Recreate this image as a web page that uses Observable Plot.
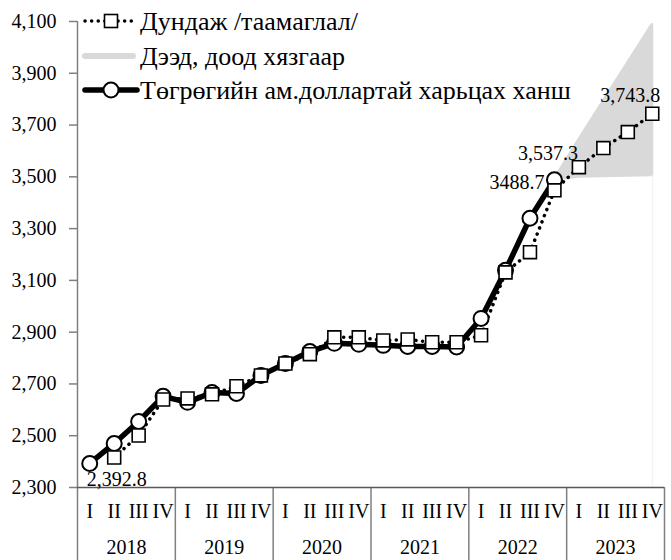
<!DOCTYPE html>
<html>
<head>
<meta charset="utf-8">
<script src="https://cdn.jsdelivr.net/npm/d3@7"></script>
<script src="https://cdn.jsdelivr.net/npm/@observablehq/plot@0.6"></script>
<style>
  html, body { margin: 0; padding: 0; background: white; }
  #chart { position: relative; width: 671px; height: 560px; }
</style>
</head>
<body>
<div id="chart"></div>
<script>
// ---- data ----
const quarterLabels = ["I", "II", "III", "IV"];
const years = ["2018", "2019", "2020", "2021", "2022", "2023"];
// Actual exchange rate, 2018 Q1 .. 2022 Q4
const actualValues = [
  2392.8, 2470, 2555, 2652,
  2629, 2667, 2663, 2733,
  2779, 2825, 2857, 2853,
  2849, 2845, 2845, 2843,
  2953, 3139, 3340, 3488.7
];
// Average forecast, 2018 Q2 .. 2023 Q4
const forecastValues = [
  2416, 2501, 2640,
  2644, 2660, 2691, 2733,
  2779, 2815, 2880, 2880,
  2868, 2872, 2861, 2861,
  2888, 3131, 3209, 3448,
  3537.3, 3611, 3673, 3743.8
];
// Upper / lower bounds, 2022 Q4 .. 2023 Q4
const bandUpper = [3488.7, 3640, 3790, 3938, 4086];
const bandLower = [3488.7, 3500, 3502, 3504, 3506];
const yTicks = [2300, 2500, 2700, 2900, 3100, 3300, 3500, 3700, 3900, 4100];
const legendLabels = ["Дундаж /таамаглал/", "Дээд, доод хязгаар", "Төгрөгийн ам.доллартай харьцах ханш"];

// ---- tables ----
const actual = actualValues.map((v, k) => ({i: k, v}));
const forecast = forecastValues.map((v, k) => ({i: k + 1, v}));
const band = bandUpper.map((hi, k) => ({i: k + 19, hi, lo: bandLower[k]}));
const quarterIdx = d3.range(years.length * 4);
const separators = d3.range(years.length + 1).map(k => k * 4 - 0.5);
const yearCenters = years.map((y, k) => k * 4 + 1.5);

const fmtComma = d3.format(",.1f");
const fmtPlain = d3.format(".1f");
const axisGray = "#7f7f7f";
const serif = "'Liberation Serif', 'Times New Roman', serif";

const plot = Plot.plot({
  width: 671,
  height: 560,
  marginLeft: 77,
  marginRight: 7,
  marginTop: 21,
  marginBottom: 73,
  style: {fontFamily: serif, fontSize: "20px", background: "white", color: "black", overflow: "visible"},
  x: {domain: [-0.5, 23.5], axis: null},
  y: {domain: [2300, 4100], axis: null},
  marks: [
    Plot.areaY(band, {x: "i", y1: "lo", y2: "hi", fill: "#d9d9d9", stroke: "#d9d9d9", strokeWidth: 3, strokeLinejoin: "round"}),
    Plot.ruleX(band.slice(-1), {x: "i", y1: 2300, y2: "lo", stroke: "#f0f0f0", strokeWidth: 1}),
    Plot.axisY({ticks: yTicks, tickFormat: d3.format(","), tickSize: 8, tickPadding: 13, stroke: axisGray, fill: "black", strokeWidth: 1.5, fontSize: 20, label: null}),
    Plot.axisX({ticks: separators, tickSize: 73, tickFormat: () => "", stroke: axisGray, strokeWidth: 1.5, label: null}),
    Plot.axisX({ticks: quarterIdx, tickSize: 0, tickPadding: 16, tickFormat: i => quarterLabels[i % 4], fill: "black", fontSize: 20, label: null}),
    Plot.axisX({ticks: yearCenters, tickSize: 0, tickPadding: 52, tickFormat: (d, k) => years[k], fill: "black", fontSize: 20, label: null}),
    Plot.ruleX([-0.5], {stroke: axisGray, strokeWidth: 1.5}),
    Plot.ruleY([2300], {stroke: "#595959", strokeWidth: 1.5}),
    Plot.line(actual, {x: "i", y: "v", stroke: "black", strokeWidth: 5.5, strokeLinejoin: "round"}),
    Plot.line(forecast, {x: "i", y: "v", stroke: "black", strokeWidth: 3.5, strokeDasharray: "0.1 6.5", strokeLinecap: "round"}),
    Plot.dot(actual, {x: "i", y: "v", r: 7.5, fill: "white", stroke: "black", strokeWidth: 2}),
    Plot.dot(forecast, {x: "i", y: "v", symbol: "square", r: 7.3, fill: "white", stroke: "black", strokeWidth: 1.6}),
    Plot.text(actual.slice(0, 1), {x: "i", y: "v", text: d => fmtComma(d.v), textAnchor: "start", dx: -3, dy: 16, fontSize: 20, fill: "black"}),
    Plot.text(actual.slice(-1), {x: "i", y: "v", text: d => fmtPlain(d.v), textAnchor: "end", dx: -10, dy: 3, fontSize: 20, fill: "black"}),
    Plot.text(forecast.filter(d => d.i === 20), {x: "i", y: "v", text: d => fmtComma(d.v), textAnchor: "end", dx: -1, dy: -14, fontSize: 20, fill: "black"}),
    Plot.text(forecast.slice(-1), {x: "i", y: "v", text: d => fmtComma(d.v), textAnchor: "end", dx: 8, dy: -18, fontSize: 20, fill: "black"})
  ]
});
document.getElementById("chart").appendChild(plot);

// ---- legend (overlay inside the svg) ----
const svg = d3.select(plot);
const lg = svg.append("g").attr("font-family", serif).attr("font-size", 26).attr("text-anchor", "start");
const rowY = [21, 56, 90];
const x0 = 85, x1 = 137, xm = 111;
// row 1: dotted + square
lg.append("line").attr("x1", x0).attr("x2", x1).attr("y1", rowY[0]).attr("y2", rowY[0])
  .attr("stroke", "black").attr("stroke-width", 3.5).attr("stroke-dasharray", "0.1 6.5").attr("stroke-linecap", "round");
lg.append("rect").attr("x", xm - 6.5).attr("y", rowY[0] - 6.5).attr("width", 13).attr("height", 13)
  .attr("fill", "white").attr("stroke", "black").attr("stroke-width", 1.6);
// row 2: gray line
lg.append("line").attr("x1", x0).attr("x2", x1 - 4).attr("y1", rowY[1]).attr("y2", rowY[1])
  .attr("stroke", "#d9d9d9").attr("stroke-width", 6).attr("stroke-linecap", "round");
// row 3: thick line + circle
lg.append("line").attr("x1", x0).attr("x2", x1).attr("y1", rowY[2]).attr("y2", rowY[2])
  .attr("stroke", "black").attr("stroke-width", 5.5).attr("stroke-linecap", "round");
lg.append("circle").attr("cx", xm).attr("cy", rowY[2]).attr("r", 7.5)
  .attr("fill", "white").attr("stroke", "black").attr("stroke-width", 2);
legendLabels.forEach((t, k) => {
  lg.append("text").attr("x", 140).attr("y", rowY[k]).attr("dy", "0.35em").attr("fill", "black").attr("text-anchor", "start").text(t);
});
</script>
</body>
</html>
